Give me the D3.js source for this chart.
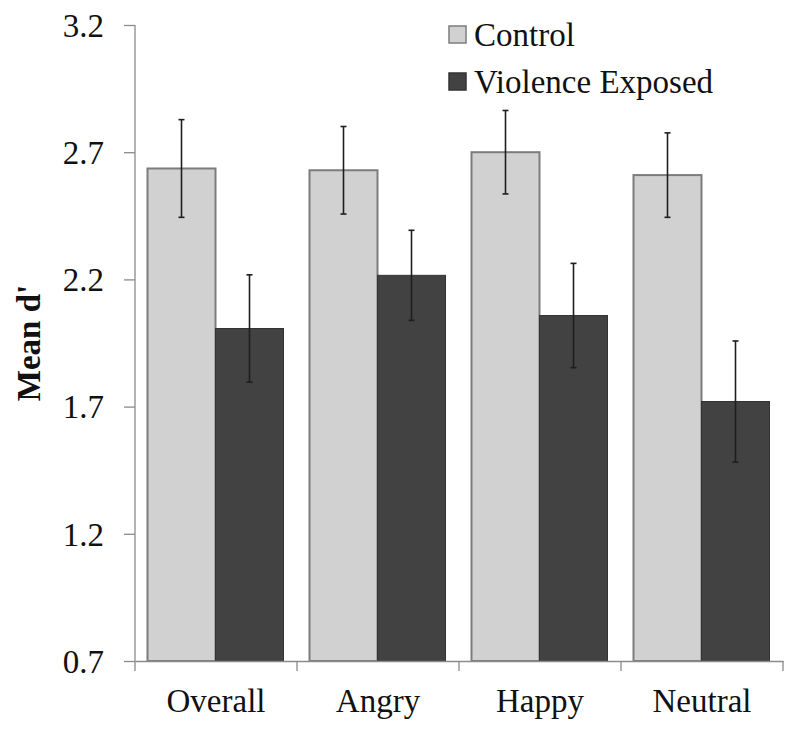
<!DOCTYPE html>
<html>
<head>
<meta charset="utf-8">
<script src="https://cdn.jsdelivr.net/npm/d3@7"></script>
<style>
  body { margin: 0; background: #fff; }
  text { font-family: "Liberation Serif", "Times New Roman", serif; fill: #111; }
</style>
</head>
<body>
<svg class="chart"></svg>
<script>
// data
var categories = ["Overall", "Angry", "Happy", "Neutral"];
var groups = ["Control", "Violence Exposed"];
var controlMeans = [2.636, 2.629, 2.700, 2.610];
var controlErr = [0.192, 0.172, 0.164, 0.166];
var exposedMeans = [2.007, 2.216, 2.058, 1.720];
var exposedErr = [0.211, 0.177, 0.205, 0.238];
var yTicks = [0.7, 1.2, 1.7, 2.2, 2.7, 3.2];

function show() {
    'use strict';
    var width = 800, height = 739;
    var left = 135, right = 783, top = 25, bottom = 661;

    var svg = d3.select(".chart")
        .attr("width", width)
        .attr("height", height);

    var fills = ["#d1d1d1", "#424242"];
    var strokes = ["#7c7c7c", "#333333"];

    var x0 = d3.scaleBand().domain(categories).range([left, right]).padding(0);
    var x1 = d3.scaleBand().domain(groups)
        .range([12.5, x0.bandwidth() - 13.5]).padding(0);
    var y = d3.scaleLinear().domain([0.7, 3.2]).range([bottom, top]);

    var rows = categories.map(function(c, i) {
        return {cat: c, vals: [
            {g: groups[0], v: controlMeans[i], e: controlErr[i], k: 0},
            {g: groups[1], v: exposedMeans[i], e: exposedErr[i], k: 1}
        ]};
    });

    // bars
    var grp = svg.append("g").selectAll("g").data(rows).enter()
        .append("g")
        .attr("transform", function(d) { return "translate(" + x0(d.cat) + ",0)"; });

    grp.selectAll("rect").data(function(d) { return d.vals; }).enter()
        .append("rect")
        .attr("x", function(d) { return x1(d.g); })
        .attr("y", function(d) { return y(d.v); })
        .attr("width", x1.bandwidth())
        .attr("height", function(d) { return y(0.7) - y(d.v); })
        .attr("fill", function(d) { return fills[d.k]; })
        .attr("stroke", function(d) { return strokes[d.k]; })
        .attr("stroke-width", function(d) { return d.k === 0 ? 2 : 1; });

    // error bars
    var eb = grp.selectAll("g.err").data(function(d) { return d.vals; }).enter()
        .append("g").attr("class", "err")
        .attr("stroke", "#1e1e1e").attr("stroke-width", 1.6);
    var cx = function(d) { return x1(d.g) + x1.bandwidth() / 2; };
    eb.append("line")
        .attr("x1", cx).attr("x2", cx)
        .attr("y1", function(d) { return y(d.v + d.e); })
        .attr("y2", function(d) { return y(d.v - d.e); });
    [1, -1].forEach(function(s) {
        eb.append("line")
            .attr("x1", function(d) { return cx(d) - 3; })
            .attr("x2", function(d) { return cx(d) + 3; })
            .attr("y1", function(d) { return y(d.v + s * d.e); })
            .attr("y2", function(d) { return y(d.v + s * d.e); });
    });

    // y axis
    var yAxis = svg.append("g")
        .attr("transform", "translate(" + left + ",0)")
        .call(d3.axisLeft(y).tickValues(yTicks).tickSize(11).tickPadding(20)
            .tickFormat(d3.format(".1f")));
    yAxis.select(".domain").attr("stroke", "#8a8a8a").attr("stroke-width", 1.3)
        .attr("d", "M0," + y(3.2) + "V" + y(0.7));
    yAxis.selectAll(".tick line").attr("stroke", "#8a8a8a").attr("stroke-width", 1.3);
    yAxis.selectAll(".tick text")
        .style("font-size", "33px").attr("fill", "#111").attr("dy", "0.34em");

    // x axis
    var xAxis = svg.append("g")
        .attr("transform", "translate(0," + bottom + ")")
        .call(d3.axisBottom(x0).tickSize(0).tickPadding(28));
    xAxis.select(".domain").attr("stroke", "#8a8a8a").attr("stroke-width", 1.3);
    xAxis.selectAll(".tick text").style("font-size", "33px").attr("fill", "#111");
    var bounds = categories.map(function(c) { return x0(c); }).concat([x0.range()[1]]);
    xAxis.selectAll("line.bnd").data(bounds).enter()
        .append("line").attr("class", "bnd")
        .attr("x1", function(d) { return d; }).attr("x2", function(d) { return d; })
        .attr("y1", 0).attr("y2", 10)
        .attr("stroke", "#8a8a8a").attr("stroke-width", 1.3);

    // y title
    svg.append("text")
        .attr("transform", "translate(40," + (top + bottom) / 2 + ") rotate(-90)")
        .attr("text-anchor", "middle")
        .style("font-size", "33px").style("font-weight", "bold")
        .text("Mean d'");

    // legend
    var legend = svg.append("g").selectAll("g").data(groups).enter()
        .append("g")
        .attr("transform", function(d, i) { return "translate(449," + (26 + i * 47) + ")"; });
    legend.append("rect")
        .attr("width", 17).attr("height", 17)
        .attr("fill", function(d, i) { return fills[i]; })
        .attr("stroke", function(d, i) { return strokes[i]; })
        .attr("stroke-width", 1.5);
    legend.append("text")
        .attr("x", 25).attr("y", 20)
        .style("font-size", "33px")
        .text(function(d) { return d; });
}
show();
</script>
</body>
</html>
